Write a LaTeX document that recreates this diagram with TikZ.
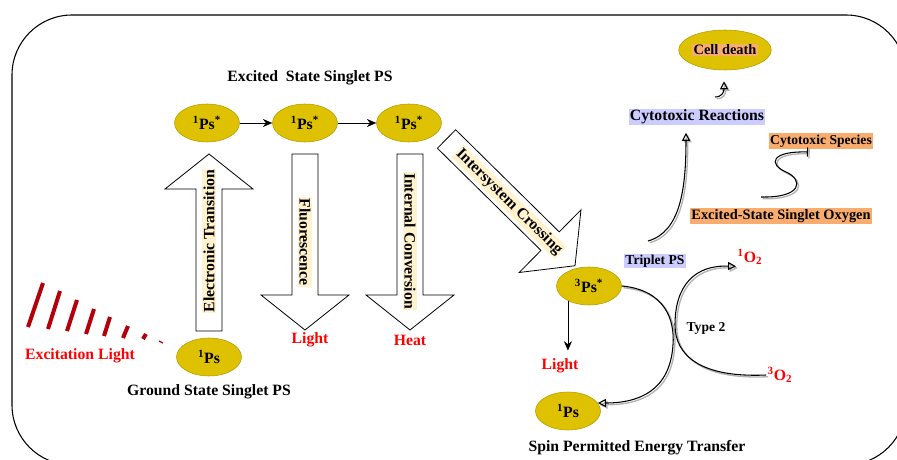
\documentclass[tikz,border=0pt]{standalone}
\usepackage{fontspec}
\setmainfont{Liberation Serif}
\usetikzlibrary{shapes.geometric,arrows.meta,calc}

\definecolor{psgold}{RGB}{222,193,0}
\definecolor{arrowyellow}{RGB}{255,242,204}
\definecolor{tripletblue}{RGB}{204,204,255}
\definecolor{speciesorange}{RGB}{248,172,110}
\definecolor{excitered}{RGB}{180,0,10}

\tikzset{
  psnode/.style={ellipse, fill=psgold, draw=psgold!80!black, line width=0.4pt,
    minimum width=48.75pt, minimum height=28.5pt, inner sep=0pt,
    font=\fontsize{11.8}{14}\selectfont\bfseries},
  tag/.style={inner sep=1pt, font=\fontsize{11.8}{14}\selectfont\bfseries},
  midtag/.style={inner sep=1pt, font=\fontsize{10.8}{13}\selectfont\bfseries},
  smalltag/.style={inner sep=1pt, font=\fontsize{10.2}{12}\selectfont\bfseries},
  redtag/.style={tag, text=red},
  arrowtext/.style={tag, fill=arrowyellow},
  blockarrow/.style={draw, fill=white, line width=0.6pt},
  excite/.style={excitered, line width=3pt},
  opentip/.style={-{Triangle[open, length=6pt, width=6pt]}},
  shadowed/.style={line width=0.8pt,
    preaction={draw=black!30, line width=1pt, transform canvas={shift={(1.3pt,-1.3pt)}}}},
}

% block arrow: start, angle, length (px)
\newcommand{\blockarrow}[3]{%
  \draw[blockarrow, shift={#1}, rotate=#2]
    (0,-13) -- (#3-35,-13) -- (#3-35,-44) -- (#3,0) -- (#3-35,44) -- (#3-35,13) -- (0,13) -- cycle;}

\begin{document}
\begin{tikzpicture}[x=0.75pt, y=-0.75pt]
  \useasboundingbox (0,0) rectangle (897,460);
  \draw[line width=0.8pt, rounded corners=45pt] (12,15) rectangle (906,465);

  % big arrows
  \blockarrow{(209,331)}{90}{177}
  \blockarrow{(305,154)}{-90}{176}
  \blockarrow{(410,154)}{-90}{176}
  \blockarrow{(446.5,139)}{-44.6}{180.5}
  \node[arrowtext, rotate=90] (ettext) at (209,241) {Electronic Transition};
  \node[arrowtext, rotate=-90] (fltext) at (305,242) {Fluorescence};
  \node[arrowtext, rotate=-90] (ictext) at (410,241) {Internal Conversion};
  \node[arrowtext, rotate=-44.6] (isctext) at (509,202) {Intersystem Crossing};

  % excitation light
  \draw[excite] (28,327) -- (43,283);
  \draw[excite] (48,329) -- (60,291);
  \draw[excite] (67,331) -- (77,300);
  \draw[excite] (86,334) -- (94,309);
  \draw[excite] (104,336) -- (110,317);
  \draw[excite] (123,338) -- (128,326);
  \draw[excite] (143,339) -- (146,334);
  \draw[excite, line width=1pt] (159,341) -- (163,343);

  % singlet states
  \node[tag] (extitle) at (310,78) {Excited\ \ State Singlet PS};
  \node[psnode] (es1) at (207,123) {\textsuperscript{1}Ps\textsuperscript{*}};
  \node[psnode] (es2) at (305,123) {\textsuperscript{1}Ps\textsuperscript{*}};
  \node[psnode] (es3) at (409,123) {\textsuperscript{1}Ps\textsuperscript{*}};
  \node[psnode] (gs) at (209,357) {\textsuperscript{1}Ps};
  \node[tag] (gstitle) at (209,392) {Ground State Singlet PS};
  \node[redtag] (exlight) at (80,356) {Excitation Light};
  \node[redtag] (fllight) at (310,340) {Light};
  \node[redtag] (heat) at (410,340) {Heat};
  \draw[-{Stealth[length=7pt, width=6pt]}] (es1) -- (es2);
  \draw[-{Stealth[length=7pt, width=6pt]}] (es2) -- (es3);

  % triplet state
  \node[psnode] (ts) at (589,286) {\textsuperscript{3}Ps\textsuperscript{*}};
  \node[redtag] (tslight) at (560,366) {Light};
  \node[psnode] (gs2) at (568,411) {\textsuperscript{1}Ps};
  \node[tag] (spin) at (637,448) {Spin Permitted Energy Transfer};
  \node[smalltag, fill=tripletblue] (triplet) at (655,261) {Triplet PS};
  \node[smalltag] (type2) at (706,328) {Type 2};
  \node[redtag] (sox) at (750,257) {\textsuperscript{1}O\textsubscript{2}};
  \node[redtag] (tox) at (780,375) {\textsuperscript{3}O\textsubscript{2}};
  \draw[-{Stealth[length=7pt, width=6pt]}] (ts.215) -- ([yshift=5pt]ts.215 |- tslight.north);
  \draw[shadowed, opentip] (ts.east) .. controls (665,290) and (675,320) .. (673,345)
    .. controls (670,390) and (640,403) .. (gs2.15);
  \draw[shadowed, opentip] (tox.west) .. controls (700,378) and (675,355) .. (675,325)
    .. controls (675,285) and (695,265) .. (sox.south west);

  % cytotoxic part
  \node[psnode, minimum width=60pt, minimum height=30pt] (death) at (725,50)
    {\setlength{\fboxsep}{1pt}\colorbox{speciesorange}{\fontsize{10.8}{13}\selectfont Cell death}};
  \node[tag, fill=tripletblue] (react) at (697,117) {Cytotoxic Reactions};
  \node[smalltag, fill=speciesorange] (species) at (821,141) {Cytotoxic Species};
  \node[midtag, fill=speciesorange] (exso) at (781,216) {Excited-State Singlet Oxygen};
  \coordinate (cytostart) at (648,241);
  \coordinate (deathfoot) at (715,97);
  \coordinate (sbottom) at (761,197);
  \coordinate (stop) at (808,152);
  \draw[shadowed, opentip] (cytostart) .. controls (680,232) and (686,190) .. ($(react.south)+(-11,7)$);
  \draw[shadowed, opentip] (deathfoot) .. controls (722,97) and (724,92) .. ($(death.south)+(-1,11)$);
  \draw[shadowed, -{Bar[width=7pt]}] (sbottom) .. controls (802,198) and (804,180) .. (786,172)
    .. controls (768,164) and (771,151) .. (stop);
\end{tikzpicture}
\end{document}
